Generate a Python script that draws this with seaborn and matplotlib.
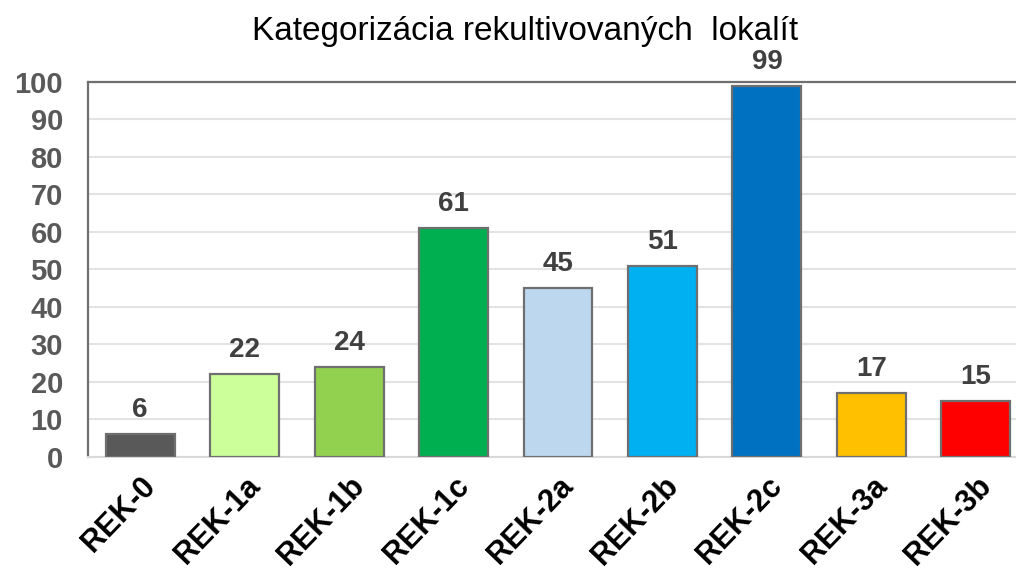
import pandas as pd
import matplotlib.pyplot as plt
import seaborn as sns

# Dáta z grafu
kategorie = ['REK-0', 'REK-1a', 'REK-1b', 'REK-1c', 'REK-2a', 'REK-2b', 'REK-2c', 'REK-3a', 'REK-3b']
pocty = [6, 22, 24, 61, 45, 51, 99, 17, 15]
farby = ['#595959', '#CCFF99', '#92D050', '#00B050', '#BDD7EE', '#00B0F0', '#0070C0', '#FFC000', '#FF0000']

sns.set_style('white')
plt.rcParams['font.family'] = ['Liberation Sans', 'DejaVu Sans']

df = pd.DataFrame({'kategoria': kategorie, 'pocet': pocty})

fig = plt.figure(figsize=(10.16, 5.69), dpi=100)
ax = fig.add_axes([0.0866, 0.197, 0.9134, 0.659])

sns.barplot(data=df, x='kategoria', y='pocet', hue='kategoria', palette=farby,
            legend=False, width=0.66, edgecolor='#6f6f6f', linewidth=1.6,
            saturation=1, ax=ax, zorder=3)

for i, v in enumerate(pocty):
    ax.annotate(str(v), (i, v), xytext=(0, 8), textcoords='offset points',
                ha='center', va='bottom', fontsize=20, fontweight='bold', color='#404040')

ax.set_ylim(0, 100)
ax.set_xlim(-0.5, 8.385)
ax.set_yticks(range(0, 101, 10))
ax.yaxis.grid(True, color='#e3e3e3', linewidth=1.5, zorder=0)
ax.set_axisbelow(True)

for s in ['left', 'top']:
    ax.spines[s].set_color('#6f6f6f')
    ax.spines[s].set_linewidth(1.6)
ax.spines['bottom'].set_color('#d9d9d9')
ax.spines['bottom'].set_linewidth(1.5)
ax.spines['right'].set_visible(False)

ax.tick_params(axis='y', labelsize=21, labelcolor='#595959', length=0, pad=18)
ax.tick_params(axis='x', labelsize=22, labelcolor='black', length=0, pad=10)
for lab in ax.get_yticklabels():
    lab.set_fontweight('bold')
for lab in ax.get_xticklabels():
    lab.set_fontweight('bold')
    lab.set_rotation(46)
    lab.set_ha('right')
    lab.set_rotation_mode('anchor')

ax.set_xlabel('')
ax.set_ylabel('')
fig.text(0.517, 0.945, 'Kategorizácia rekultivovaných  lokalít', ha='center', va='center',
         fontsize=24, color='black')

fig.savefig('out.png', dpi=100)
